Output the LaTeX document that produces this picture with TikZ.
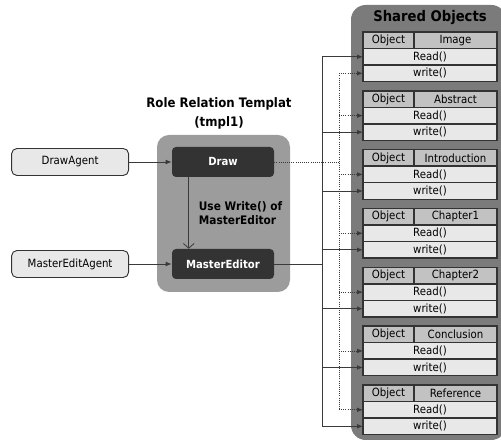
\documentclass[tikz,border=0pt]{standalone}
\usepackage{fontspec}
\setmainfont{DejaVu Sans}[FakeStretch=0.9]
\usepackage{tikz}
\usetikzlibrary{arrows.meta, positioning}

\definecolor{panelgray}{HTML}{7B7B7B}
\definecolor{tmplgray}{HTML}{9C9C9C}
\definecolor{darkbox}{HTML}{333333}
\definecolor{rowgray}{HTML}{E8E8E8}
\definecolor{hdgray}{HTML}{C2C2C2}
\definecolor{linegray}{HTML}{3A3A3A}

\begin{document}
\begin{tikzpicture}[
    x=0.75pt, y=-0.75pt,
    agent/.style={rectangle, rounded corners=4pt, draw=darkbox, line width=0.7pt, fill=rowgray, minimum width=87.75pt, minimum height=20.25pt, font=\fontsize{8.5pt}{10pt}\selectfont},
    rolebox/.style={rectangle, rounded corners=3pt, fill=darkbox, text=white, minimum width=76.5pt, minimum height=22.5pt, font=\bfseries\fontsize{8.4pt}{10pt}\selectfont},
    objhd/.style={rectangle, draw=darkbox, line width=1.1pt, fill=hdgray, minimum width=38.25pt, minimum height=12.4pt, inner sep=0pt, outer sep=0pt, font=\fontsize{8.5pt}{10pt}\selectfont},
    objname/.style={objhd, minimum width=62.25pt},
    objrow/.style={objhd, fill=rowgray, minimum width=100.5pt},
    link/.style={draw=linegray, line width=0.6pt},
    arrow/.style={link, -{Latex[length=4.5pt, width=3.5pt]}},
    dotlink/.style={link, densely dotted}
]
\useasboundingbox (0,0) rectangle (501,441);

% panels
\fill[panelgray, rounded corners=11pt] (351,5) rectangle (506,440);
\node[font=\bfseries\fontsize{11pt}{13pt}\selectfont] (shtitle) at (430,18) {Shared Objects};
\fill[tmplgray, rounded corners=9pt] (157,135) rectangle (290,292);
\node[align=center, font=\bfseries\fontsize{9.8pt}{14.25pt}\selectfont] (tmpltitle) at (219,113) {Role Relation Templat\\(tmpl1)};

% role template
\node[rolebox] (draw) at (223,162) {Draw};
\node[rolebox] (medit) at (223,264) {MasterEditor};
\node[agent, left=32pt of draw] (drawagent) {DrawAgent};
\node[agent, left=32pt of medit] (meditagent) {MasterEditAgent};

\draw[arrow] (drawagent) -- (draw);
\draw[arrow] (meditagent) -- (medit);
\draw[link, -{Straight Barb[length=3.5pt, width=8pt]}] ([xshift=12.75pt]draw.south west) -- ([xshift=12.75pt]medit.north west)
    node[midway, right=4pt, align=left, font=\bfseries\fontsize{8.8pt}{11pt}\selectfont] (uselabel) {Use Write() of\\MasterEditor};

% shared objects
\foreach \nm [count=\i] in {Image,Abstract,Introduction,Chapter1,Chapter2,Conclusion,Reference} {
    \pgfmathsetmacro\ty{32+58.83*(\i-1)}
    \node[objhd, anchor=north west] (hd\i) at (363,\ty) {Object};
    \node[objname, anchor=north west] (nm\i) at (hd\i.north east) {\nm};
    \node[objrow, anchor=north west] (rd\i) at (hd\i.south west) {Read()};
    \node[objrow, anchor=north west] (wr\i) at (rd\i.south west) {write()};
}

% buses
\coordinate (mebus) at (322,264);
\coordinate (drbus) at (339,162);
\draw[link] (medit.east) -- (mebus);
\draw[dotlink] (draw.east) -- (drbus);
\draw[link] (mebus |- rd1) -- (mebus |- wr7);
\draw[dotlink] (drbus |- wr1) -- (drbus |- rd7);

\draw[arrow] (mebus |- rd1) -- (rd1.west);
\draw[arrow, densely dotted] (drbus |- wr1) -- (wr1.west);
\foreach \i in {2,...,7} {
    \draw[arrow] (mebus |- wr\i) -- (wr\i.west);
    \draw[arrow, densely dotted] (drbus |- rd\i) -- (rd\i.west);
}
\end{tikzpicture}
\end{document}
